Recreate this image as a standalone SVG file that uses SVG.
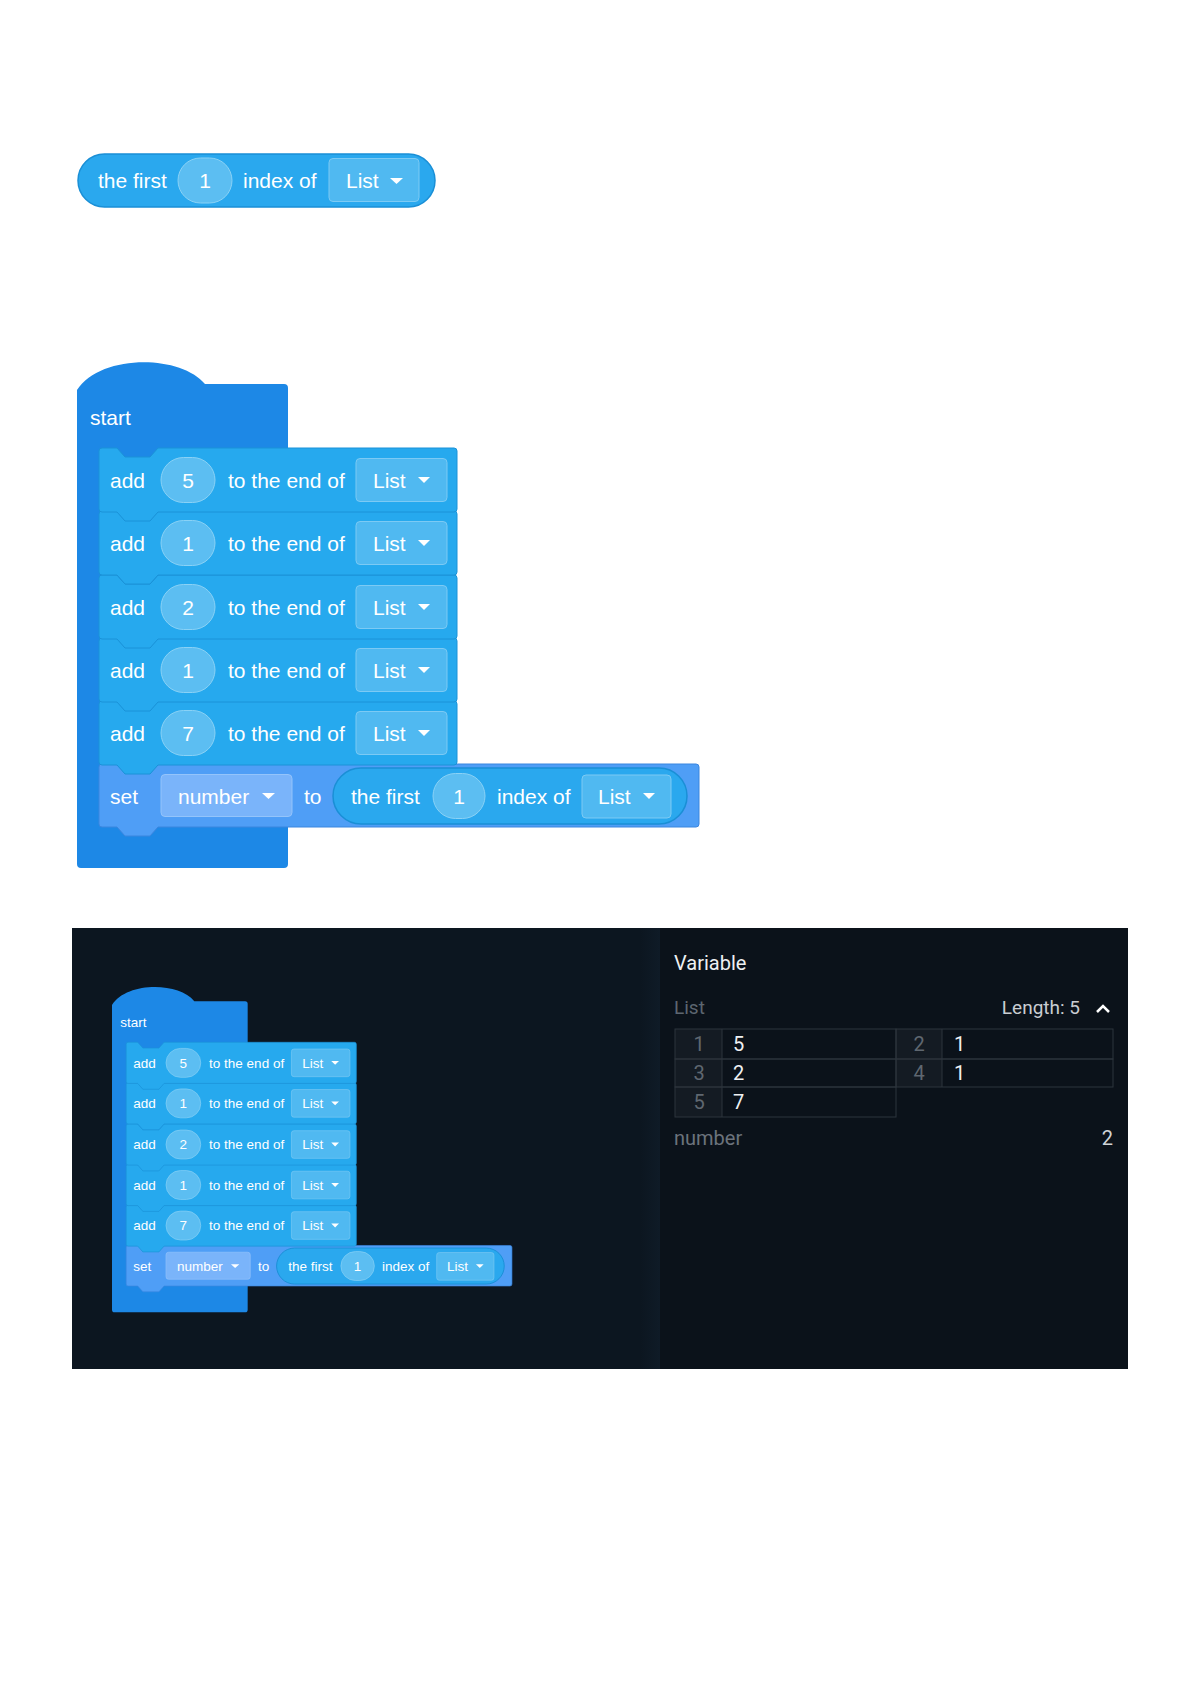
<svg xmlns="http://www.w3.org/2000/svg" width="1191" height="1684" viewBox="0 0 1191 1684">
<defs>
<style>
.start{fill:#1d88e6}
.add{fill:#26a9ee;stroke:#1a92d8;stroke-width:1}
.set{fill:#4f9ef6;stroke:#3b86df;stroke-width:1}
.pill{fill:#2aa8ee;stroke:#1a8fd6;stroke-width:1.5}
.oval{fill:#5cbef2;stroke:#8ad2f6;stroke-width:1}
.dd{fill:#50b9f1;stroke:#7ccaf4;stroke-width:1}
.dds{fill:#7ab4fa;stroke:#94c4fb;stroke-width:1}
.t{font-family:"Liberation Sans",Arial,sans-serif;font-size:21px;fill:#ffffff}
.c{text-anchor:middle}
.tri{fill:#ffffff}
.p{font-family:Roboto,"Liberation Sans",sans-serif}
.cell{fill:none;stroke:#2c343d;stroke-width:1}
.idx{fill:#141b23}
</style>
<linearGradient id="shade" x1="0" y1="0" x2="1" y2="0">
<stop offset="0" stop-color="#0c1620"/>
<stop offset="1" stop-color="#0f1b27"/>
</linearGradient>
</defs>
<rect width="1191" height="1684" fill="#ffffff"/>

<!-- Standalone reporter block -->
<g id="reporter-first-index">
<rect class="pill" x="78" y="154" width="357" height="53" rx="26.5"/>
<text class="t" x="98" y="188">the first</text>
<rect class="oval" x="178" y="158" width="54" height="45" rx="22.5"/>
<text class="t c" x="205" y="188">1</text>
<text class="t" x="243" y="188">index of</text>
<rect class="dd" x="329" y="158.5" width="90" height="43" rx="4"/>
<text class="t" x="346" y="188">List</text>
<polygon class="tri" points="390,178 403,178 396.5,184"/>
</g>

<!-- Large program stack -->
<g id="program-large">
<g id="start-block">
<path class="start" d="M77,390 C100,354 180,354 205,384 H284 Q288,384 288,388 V864 Q288,868 284,868 H81 Q77,868 77,864 Z"/>
<text class="t" x="90" y="425">start</text>
</g>
<g id="set-block">
<path class="set" d="M99,767 Q99,764 102,764 H117 L125,773 H150 L158,764 H696 Q699,764 699,767 V824 Q699,827 696,827 H158 L150,836 H125 L117,827 H102 Q99,827 99,824 Z"/>
<text class="t" x="110" y="803.5">set</text>
<rect class="dds" x="161" y="774.5" width="131" height="42" rx="4"/>
<text class="t" x="178" y="803.5">number</text>
<polygon class="tri" points="262,793 275,793 268.5,799"/>
<text class="t" x="304" y="803.5">to</text>
<rect class="pill" x="333" y="768" width="354" height="56" rx="28"/>
<text class="t" x="351" y="803.5">the first</text>
<rect class="oval" x="433" y="773.5" width="52" height="45" rx="22.5"/>
<text class="t c" x="459" y="803.5">1</text>
<text class="t" x="497" y="803.5">index of</text>
<rect class="dd" x="582" y="775" width="89" height="43" rx="4"/>
<text class="t" x="598" y="803.5">List</text>
<polygon class="tri" points="643,793 655,793 649,799"/>
</g>
<g id="add-7">
<path class="add" d="M99,704 Q99,701 102,701 H117 L125,710 H150 L158,701 H454 Q457,701 457,704 V762 Q457,765 454,765 H158 L150,774 H125 L117,765 H102 Q99,765 99,762 Z"/>
<text class="t" x="110" y="740.5">add</text>
<rect class="oval" x="161" y="710.5" width="54" height="45" rx="22.5"/>
<text class="t c" x="188" y="740.5">7</text>
<text class="t" x="228" y="740.5">to the end of</text>
<rect class="dd" x="356" y="711.5" width="91" height="43" rx="4"/>
<text class="t" x="373" y="740.5">List</text>
<polygon class="tri" points="418,730 430,730 424,736"/>
</g>
<g id="add-1b">
<path class="add" d="M99,641 Q99,638 102,638 H117 L125,647 H150 L158,638 H454 Q457,638 457,641 V699 Q457,702 454,702 H158 L150,711 H125 L117,702 H102 Q99,702 99,699 Z"/>
<text class="t" x="110" y="677.5">add</text>
<rect class="oval" x="161" y="647.5" width="54" height="45" rx="22.5"/>
<text class="t c" x="188" y="677.5">1</text>
<text class="t" x="228" y="677.5">to the end of</text>
<rect class="dd" x="356" y="648.5" width="91" height="43" rx="4"/>
<text class="t" x="373" y="677.5">List</text>
<polygon class="tri" points="418,667 430,667 424,673"/>
</g>
<g id="add-2">
<path class="add" d="M99,578 Q99,575 102,575 H117 L125,584 H150 L158,575 H454 Q457,575 457,578 V636 Q457,639 454,639 H158 L150,648 H125 L117,639 H102 Q99,639 99,636 Z"/>
<text class="t" x="110" y="614.5">add</text>
<rect class="oval" x="161" y="584.5" width="54" height="45" rx="22.5"/>
<text class="t c" x="188" y="614.5">2</text>
<text class="t" x="228" y="614.5">to the end of</text>
<rect class="dd" x="356" y="585.5" width="91" height="43" rx="4"/>
<text class="t" x="373" y="614.5">List</text>
<polygon class="tri" points="418,604 430,604 424,610"/>
</g>
<g id="add-1a">
<path class="add" d="M99,514 Q99,511 102,511 H117 L125,520 H150 L158,511 H454 Q457,511 457,514 V572 Q457,575 454,575 H158 L150,584 H125 L117,575 H102 Q99,575 99,572 Z"/>
<text class="t" x="110" y="550.5">add</text>
<rect class="oval" x="161" y="520.5" width="54" height="45" rx="22.5"/>
<text class="t c" x="188" y="550.5">1</text>
<text class="t" x="228" y="550.5">to the end of</text>
<rect class="dd" x="356" y="521.5" width="91" height="43" rx="4"/>
<text class="t" x="373" y="550.5">List</text>
<polygon class="tri" points="418,540 430,540 424,546"/>
</g>
<g id="add-5">
<path class="add" d="M99,451 Q99,448 102,448 H117 L125,457 H150 L158,448 H454 Q457,448 457,451 V509 Q457,512 454,512 H158 L150,521 H125 L117,512 H102 Q99,512 99,509 Z"/>
<text class="t" x="110" y="487.5">add</text>
<rect class="oval" x="161" y="457.5" width="54" height="45" rx="22.5"/>
<text class="t c" x="188" y="487.5">5</text>
<text class="t" x="228" y="487.5">to the end of</text>
<rect class="dd" x="356" y="458.5" width="91" height="43" rx="4"/>
<text class="t" x="373" y="487.5">List</text>
<polygon class="tri" points="418,477 430,477 424,483"/>
</g>
</g>

<!-- Dark screenshot panel -->
<g id="screenshot">
<rect x="72" y="928" width="590" height="441" fill="#0c1620"/>
<rect x="640" y="928" width="20" height="441" fill="url(#shade)"/>
<rect x="660" y="928" width="468" height="441" fill="#0b121a"/>

<g id="program-small" transform="matrix(0.643,0,0,0.643,62.49,754.23)">
<g id="s-start-block">
<path class="start" d="M77,390 C100,354 180,354 205,384 H284 Q288,384 288,388 V864 Q288,868 284,868 H81 Q77,868 77,864 Z"/>
<text class="t" x="90" y="425">start</text>
</g>
<g id="s-set-block">
<path class="set" d="M99,767 Q99,764 102,764 H117 L125,773 H150 L158,764 H696 Q699,764 699,767 V824 Q699,827 696,827 H158 L150,836 H125 L117,827 H102 Q99,827 99,824 Z"/>
<text class="t" x="110" y="803.5">set</text>
<rect class="dds" x="161" y="774.5" width="131" height="42" rx="4"/>
<text class="t" x="178" y="803.5">number</text>
<polygon class="tri" points="262,793 275,793 268.5,799"/>
<text class="t" x="304" y="803.5">to</text>
<rect class="pill" x="333" y="768" width="354" height="56" rx="28"/>
<text class="t" x="351" y="803.5">the first</text>
<rect class="oval" x="433" y="773.5" width="52" height="45" rx="22.5"/>
<text class="t c" x="459" y="803.5">1</text>
<text class="t" x="497" y="803.5">index of</text>
<rect class="dd" x="582" y="775" width="89" height="43" rx="4"/>
<text class="t" x="598" y="803.5">List</text>
<polygon class="tri" points="643,793 655,793 649,799"/>
</g>
<g id="s-add-7">
<path class="add" d="M99,704 Q99,701 102,701 H117 L125,710 H150 L158,701 H454 Q457,701 457,704 V762 Q457,765 454,765 H158 L150,774 H125 L117,765 H102 Q99,765 99,762 Z"/>
<text class="t" x="110" y="740.5">add</text>
<rect class="oval" x="161" y="710.5" width="54" height="45" rx="22.5"/>
<text class="t c" x="188" y="740.5">7</text>
<text class="t" x="228" y="740.5">to the end of</text>
<rect class="dd" x="356" y="711.5" width="91" height="43" rx="4"/>
<text class="t" x="373" y="740.5">List</text>
<polygon class="tri" points="418,730 430,730 424,736"/>
</g>
<g id="s-add-1b">
<path class="add" d="M99,641 Q99,638 102,638 H117 L125,647 H150 L158,638 H454 Q457,638 457,641 V699 Q457,702 454,702 H158 L150,711 H125 L117,702 H102 Q99,702 99,699 Z"/>
<text class="t" x="110" y="677.5">add</text>
<rect class="oval" x="161" y="647.5" width="54" height="45" rx="22.5"/>
<text class="t c" x="188" y="677.5">1</text>
<text class="t" x="228" y="677.5">to the end of</text>
<rect class="dd" x="356" y="648.5" width="91" height="43" rx="4"/>
<text class="t" x="373" y="677.5">List</text>
<polygon class="tri" points="418,667 430,667 424,673"/>
</g>
<g id="s-add-2">
<path class="add" d="M99,578 Q99,575 102,575 H117 L125,584 H150 L158,575 H454 Q457,575 457,578 V636 Q457,639 454,639 H158 L150,648 H125 L117,639 H102 Q99,639 99,636 Z"/>
<text class="t" x="110" y="614.5">add</text>
<rect class="oval" x="161" y="584.5" width="54" height="45" rx="22.5"/>
<text class="t c" x="188" y="614.5">2</text>
<text class="t" x="228" y="614.5">to the end of</text>
<rect class="dd" x="356" y="585.5" width="91" height="43" rx="4"/>
<text class="t" x="373" y="614.5">List</text>
<polygon class="tri" points="418,604 430,604 424,610"/>
</g>
<g id="s-add-1a">
<path class="add" d="M99,514 Q99,511 102,511 H117 L125,520 H150 L158,511 H454 Q457,511 457,514 V572 Q457,575 454,575 H158 L150,584 H125 L117,575 H102 Q99,575 99,572 Z"/>
<text class="t" x="110" y="550.5">add</text>
<rect class="oval" x="161" y="520.5" width="54" height="45" rx="22.5"/>
<text class="t c" x="188" y="550.5">1</text>
<text class="t" x="228" y="550.5">to the end of</text>
<rect class="dd" x="356" y="521.5" width="91" height="43" rx="4"/>
<text class="t" x="373" y="550.5">List</text>
<polygon class="tri" points="418,540 430,540 424,546"/>
</g>
<g id="s-add-5">
<path class="add" d="M99,451 Q99,448 102,448 H117 L125,457 H150 L158,448 H454 Q457,448 457,451 V509 Q457,512 454,512 H158 L150,521 H125 L117,512 H102 Q99,512 99,509 Z"/>
<text class="t" x="110" y="487.5">add</text>
<rect class="oval" x="161" y="457.5" width="54" height="45" rx="22.5"/>
<text class="t c" x="188" y="487.5">5</text>
<text class="t" x="228" y="487.5">to the end of</text>
<rect class="dd" x="356" y="458.5" width="91" height="43" rx="4"/>
<text class="t" x="373" y="487.5">List</text>
<polygon class="tri" points="418,477 430,477 424,483"/>
</g>
</g>

<g id="variable-panel" class="p">
<text x="674" y="970" font-size="20" fill="#eef0f2">Variable</text>
<text x="674" y="1014" font-size="19" fill="#5d6670">List</text>
<text x="1080" y="1014" font-size="19" fill="#c9cdd2" text-anchor="end">Length: 5</text>
<polyline points="1097,1012 1103,1006 1109,1012" fill="none" stroke="#ffffff" stroke-width="2.5"/>
<g id="list-table">
<rect class="idx" x="675" y="1029" width="47" height="88"/>
<rect class="idx" x="896" y="1029" width="46" height="58"/>
<rect class="cell" x="675" y="1029" width="221" height="30"/>
<rect class="cell" x="896" y="1029" width="217" height="30"/>
<rect class="cell" x="675" y="1059" width="221" height="28"/>
<rect class="cell" x="896" y="1059" width="217" height="28"/>
<rect class="cell" x="675" y="1087" width="221" height="30"/>
<line class="cell" x1="722" y1="1029" x2="722" y2="1117"/>
<line class="cell" x1="942" y1="1029" x2="942" y2="1087"/>
<text x="699" y="1051" font-size="20" fill="#5f6770" text-anchor="middle">1</text>
<text x="733" y="1051" font-size="20" fill="#eef0f2">5</text>
<text x="919" y="1051" font-size="20" fill="#5f6770" text-anchor="middle">2</text>
<text x="954" y="1051" font-size="20" fill="#eef0f2">1</text>
<text x="699" y="1080" font-size="20" fill="#5f6770" text-anchor="middle">3</text>
<text x="733" y="1080" font-size="20" fill="#eef0f2">2</text>
<text x="919" y="1080" font-size="20" fill="#5f6770" text-anchor="middle">4</text>
<text x="954" y="1080" font-size="20" fill="#eef0f2">1</text>
<text x="699" y="1109" font-size="20" fill="#5f6770" text-anchor="middle">5</text>
<text x="733" y="1109" font-size="20" fill="#eef0f2">7</text>
</g>
<text x="674" y="1145" font-size="20" fill="#6b737c">number</text>
<text x="1113" y="1145" font-size="20" fill="#d0d4d8" text-anchor="end">2</text>
</g>
</g>
</svg>
